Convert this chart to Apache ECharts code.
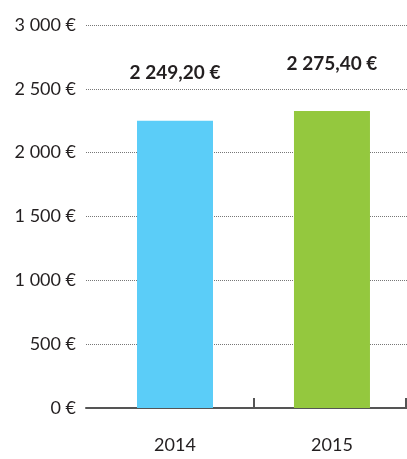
<!DOCTYPE html>
<html>
<head>
<meta charset="utf-8">
<script src="https://cdn.jsdelivr.net/npm/echarts@6/dist/echarts.min.js"></script>
<style>
html, body { margin: 0; padding: 0; background: #fff; }
#chart { width: 407px; height: 459px; }
</style>
</head>
<body>
<div id="chart"></div>
<script>
// categories and values
var years = ['2014', '2015'];
var barValues = [2249.2, 2326];          // bar heights as drawn
var labelValues = [2249.20, 2275.40];    // values printed above the bars
var barColors = ['#5bcdf8', '#94c83e'];
var yTicks = { min: 0, max: 3000, step: 500 };

function euro(v, dec) {
    var s = v.toFixed(dec).split('.');
    var intPart = s[0].replace(/\B(?=(\d{3})+(?!\d))/g, ' ');
    return intPart + (dec ? ',' + s[1] : '') + ' €';
}

var myChart = echarts.init(document.getElementById('chart'));
var txt = '#231f20';

var option = {
    animation: false,
    grid: { left: 86, right: 0, top: 25, bottom: 51 },
    xAxis: {
        type: 'value',
        min: -0.567,
        max: 1.478,
        splitLine: { show: false },
        axisLine: { show: true, lineStyle: { color: '#555', width: 2 } },
        axisTick: {
            show: true, inside: true, length: 10,
            customValues: [0.5, 1.47],
            lineStyle: { color: '#555', width: 2 }
        },
        axisLabel: {
            customValues: [0, 1],
            formatter: function (v) { return years[Math.round(v)]; },
            margin: 28,
            fontFamily: 'Lato',
            fontSize: 18,
            color: txt
        }
    },
    yAxis: {
        type: 'value',
        min: yTicks.min,
        max: yTicks.max,
        interval: yTicks.step,
        axisLine: { show: false },
        axisTick: { show: false },
        axisLabel: {
            formatter: function (v) { return euro(v, 0); },
            margin: 10,
            fontFamily: 'Lato',
            fontSize: 18,
            color: txt
        },
        splitLine: { lineStyle: { type: 'dotted', color: '#777', width: 1 } }
    },
    series: [{
        type: 'bar',
        barWidth: 76,
        data: barValues.map(function (v, i) {
            return { value: [i, v], itemStyle: { color: barColors[i] } };
        }),
        label: {
            show: true,
            position: 'top',
            distance: 38,
            formatter: function (p) { return euro(labelValues[p.dataIndex], 2); },
            fontFamily: 'Lato',
            fontWeight: 'bold',
            fontSize: 19,
            color: txt
        }
    }]
};

option && myChart.setOption(option);
</script>
</body>
</html>
